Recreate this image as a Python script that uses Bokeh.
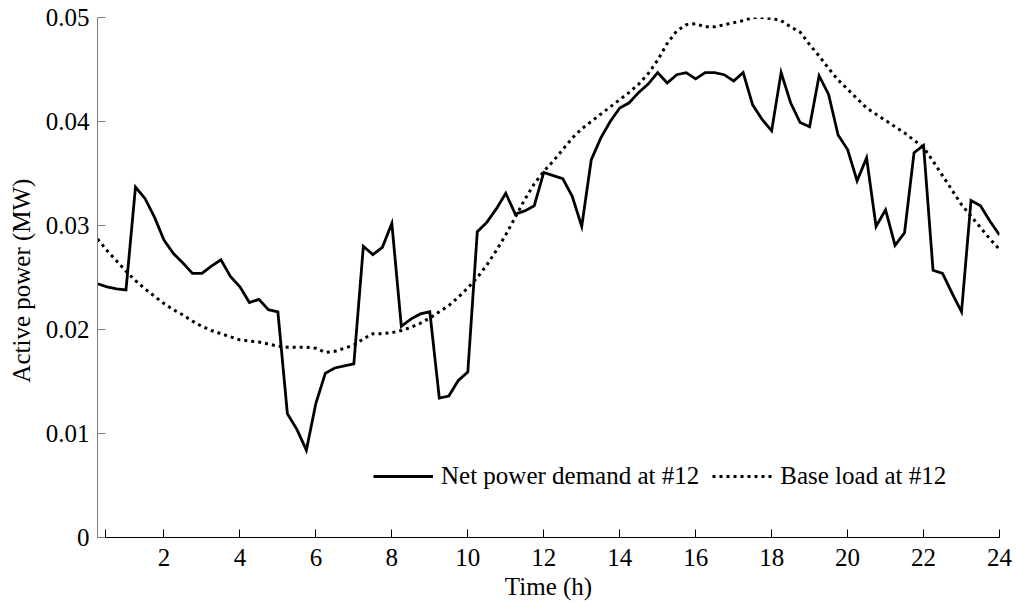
import numpy as np
from bokeh.plotting import figure
from bokeh.models import (Range1d, FixedTicker, CustomJSTickFormatter, Legend, LegendItem,
                          ColumnDataSource)
from bokeh.embed import file_html
from bokeh.resources import INLINE

# ---- data ----
hours = np.arange(0.25, 24.001, 0.25)

net_demand = [
    0.0244, 0.0241, 0.0239, 0.0238,
    0.0337, 0.0326, 0.0308, 0.0286,
    0.0273, 0.0264, 0.0254, 0.0254,
    0.0261, 0.0267, 0.0251, 0.0241,
    0.0226, 0.0229, 0.0219, 0.0217,
    0.0119, 0.0104, 0.0084, 0.0129,
    0.0158, 0.0163, 0.0165, 0.0167,
    0.0280, 0.0272, 0.0279, 0.0302,
    0.0203, 0.0210, 0.0215, 0.0217,
    0.0134, 0.0136, 0.0151, 0.0159,
    0.0294, 0.0303, 0.0316, 0.0331,
    0.0311, 0.0314, 0.0319, 0.0351,
    0.0348, 0.0345, 0.0328, 0.0299,
    0.0363, 0.0384, 0.0400, 0.0413,
    0.0418, 0.0428, 0.0436, 0.0447,
    0.0437, 0.0445, 0.0447, 0.0441,
    0.0447, 0.0447, 0.0445, 0.0439,
    0.0447, 0.0416, 0.0402, 0.0391,
    0.0447, 0.0418, 0.0399, 0.0395,
    0.0444, 0.0426, 0.0387, 0.0373,
    0.0343, 0.0365, 0.0299, 0.0315,
    0.0281, 0.0293, 0.0370, 0.0377,
    0.0257, 0.0254, 0.0235, 0.0217,
    0.0324, 0.0319, 0.0304, 0.0291,
]

base_load = [
    0.0287, 0.0276, 0.0266, 0.0256,
    0.0247, 0.0239, 0.0232, 0.0225,
    0.0219, 0.0214, 0.0208, 0.0203,
    0.0199, 0.0196, 0.0193, 0.0190,
    0.0189, 0.0188, 0.0186, 0.0184,
    0.0183, 0.0183, 0.0183, 0.0182,
    0.0178, 0.0179, 0.0182, 0.0185,
    0.0191, 0.0196, 0.0196, 0.0197,
    0.0199, 0.0202, 0.0206, 0.0211,
    0.0217, 0.0223, 0.0231, 0.0240,
    0.0250, 0.0262, 0.0276, 0.0291,
    0.0308, 0.0325, 0.0340, 0.0352,
    0.0362, 0.0373, 0.0384, 0.0393,
    0.0400, 0.0407, 0.0414, 0.0421,
    0.0428, 0.0436, 0.0446, 0.0459,
    0.0475, 0.0487, 0.0493, 0.0494,
    0.0491, 0.0491, 0.0493, 0.0495,
    0.0497, 0.0500, 0.0500, 0.0499,
    0.0497, 0.0491, 0.0486, 0.0474,
    0.0463, 0.0451, 0.0440, 0.0431,
    0.0422, 0.0413, 0.0407, 0.0401,
    0.0395, 0.0389, 0.0382, 0.0375,
    0.0362, 0.0348, 0.0334, 0.0320,
    0.0309, 0.0298, 0.0287, 0.0277,
]

x_ticks = [0.45, 2, 4, 6, 8, 10, 12, 14, 16, 18, 20, 22, 24]
y_ticks = [0, 0.01, 0.02, 0.03, 0.04, 0.05]

series_names = ["Net power demand at #12", "Base load at #12"]

FONT = "Liberation Serif"
FS = "25px"

src = ColumnDataSource(dict(h=hours, net=net_demand, base=base_load))

p = figure(width=1017, height=602, output_backend="svg", toolbar_location=None,
           x_range=Range1d(0.25, 24), y_range=Range1d(0, 0.05),
           min_border_left=97, min_border_right=18, min_border_top=17, min_border_bottom=65)

p.outline_line_color = None
p.xgrid.visible = False
p.ygrid.visible = False
p.background_fill_color = "white"
p.border_fill_color = "white"

r_net = p.line("h", "net", source=src, line_color="black", line_width=2.8, line_join="miter")
r_base = p.line("h", "base", source=src, line_color="black", line_width=3.0, line_dash="3 4")

# axes
xa = p.xaxis[0]
xa.ticker = FixedTicker(ticks=x_ticks)
xa.formatter = CustomJSTickFormatter(code="return tick < 1 ? '' : tick.toString();")
xa.axis_label = "Time (h)"
ya = p.yaxis[0]
ya.ticker = FixedTicker(ticks=y_ticks)
ya.formatter = CustomJSTickFormatter(code="return tick == 0 ? '0' : tick.toFixed(2);")
ya.axis_label = "Active power  (MW)"

for ax in (xa, ya):
    ax.major_tick_in = 8
    ax.major_tick_out = 0
    ax.minor_tick_line_color = None
    ax.major_label_text_font = FONT
    ax.major_label_text_font_size = FS
    ax.major_label_text_color = "black"
    ax.axis_label_text_font = FONT
    ax.axis_label_text_font_size = FS
    ax.axis_label_text_font_style = "normal"
    ax.axis_label_text_color = "black"
    ax.axis_line_width = 1

xa.axis_line_color = "black"
xa.major_tick_line_color = "black"
xa.major_label_standoff = 11
xa.axis_label_standoff = 4
ya.axis_line_color = "#7f7f7f"
ya.major_tick_line_color = "#7f7f7f"
ya.major_label_standoff = 8
ya.axis_label_standoff = 8

legend = Legend(items=[LegendItem(label=series_names[0], renderers=[r_net]),
                       LegendItem(label=series_names[1], renderers=[r_base])],
                location=(276, 47), orientation="horizontal",
                glyph_width=60, glyph_height=20, label_standoff=8, spacing=13,
                padding=0, margin=0, border_line_alpha=0, background_fill_alpha=0,
                label_text_font=FONT, label_text_font_size=FS, label_text_color="black")
p.add_layout(legend)

open("out.html", "w").write(file_html(p, INLINE))
